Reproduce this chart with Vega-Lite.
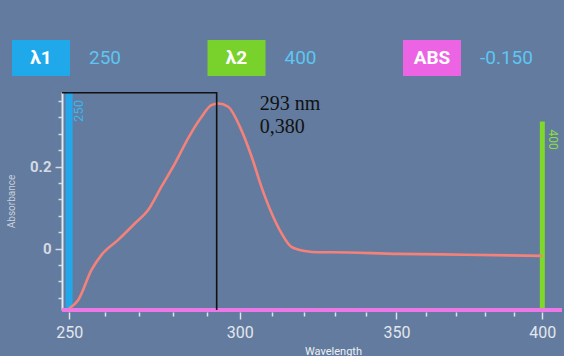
{
  "$schema": "https://vega.github.io/schema/vega-lite/v6.json",
  "background": "#627b9e",
  "padding": {"left": 6, "top": 30, "right": 0, "bottom": 0},
  "spacing": 6,
  "bounds": "flush",
  "config": {"view": {"stroke": null}, "font": "Roboto"},
  "datasets": {
    "header": [
      {"key": "λ1", "value": "250"},
      {"key": "λ2", "value": "400"},
      {"key": "ABS", "value": "-0.150"}
    ],
    "markers": [
      {"marker": "λ1", "wavelength": 250, "label": "250"},
      {"marker": "λ2", "wavelength": 400, "label": "400"},
      {"marker": "ABS", "absorbance": -0.15}
    ],
    "peak": [
      {"wavelength": 293, "absorbance": 0.38, "nm": "293 nm", "abs": "0,380"}
    ],
    "guide": [
      {"step": 1, "wavelength": 248, "absorbance": 0.38},
      {"step": 2, "wavelength": 293, "absorbance": 0.38},
      {"step": 3, "wavelength": 293, "absorbance": -0.15}
    ],
    "spectrum": [
      {"wavelength": 250.0, "absorbance": -0.146},
      {"wavelength": 252.5, "absorbance": -0.126},
      {"wavelength": 256.3, "absorbance": -0.052},
      {"wavelength": 259.1, "absorbance": -0.016},
      {"wavelength": 263.9, "absorbance": 0.021},
      {"wavelength": 268.7, "absorbance": 0.061},
      {"wavelength": 272.6, "absorbance": 0.094},
      {"wavelength": 276.5, "absorbance": 0.151},
      {"wavelength": 280.5, "absorbance": 0.208},
      {"wavelength": 284.4, "absorbance": 0.269},
      {"wavelength": 288.4, "absorbance": 0.321},
      {"wavelength": 291.4, "absorbance": 0.350},
      {"wavelength": 293.5, "absorbance": 0.354},
      {"wavelength": 296.5, "absorbance": 0.346},
      {"wavelength": 300.1, "absorbance": 0.297},
      {"wavelength": 303.7, "absorbance": 0.224},
      {"wavelength": 306.7, "absorbance": 0.151},
      {"wavelength": 309.9, "absorbance": 0.086},
      {"wavelength": 313.0, "absorbance": 0.037},
      {"wavelength": 316.1, "absorbance": 0.004},
      {"wavelength": 320.4, "absorbance": -0.006},
      {"wavelength": 324.6, "absorbance": -0.009},
      {"wavelength": 328.8, "absorbance": -0.009},
      {"wavelength": 350.6, "absorbance": -0.013},
      {"wavelength": 373.2, "absorbance": -0.015},
      {"wavelength": 400.0, "absorbance": -0.018}
    ]
  },
  "vconcat": [
    {
      "width": 470,
      "height": 56,
      "data": {"name": "header"},
      "encoding": {
        "x": {"field": "key", "type": "nominal", "sort": null, "scale": {"type": "point", "padding": 0, "range": [-21, 370]}, "axis": null}
      },
      "layer": [
        {
          "mark": {"type": "point", "shape": "M-1,-0.62H1V0.62H-1Z", "filled": true, "opacity": 1, "size": 3364},
          "encoding": {
            "color": {"field": "key", "type": "nominal", "sort": null, "scale": {"domain": ["λ1", "λ2", "ABS"], "range": ["#1fa9ea", "#79d12c", "#ec63e4"]}, "legend": null}
          }
        },
        {
          "mark": {"type": "text", "color": "white", "fontSize": 19, "fontWeight": "bold", "font": "Roboto"},
          "encoding": {"text": {"field": "key"}}
        },
        {
          "mark": {"type": "text", "color": "#5ec6f4", "fontSize": 19, "align": "left", "dx": 48, "font": "Roboto"},
          "encoding": {"text": {"field": "value"}}
        }
      ]
    },
    {
      "width": 500,
      "height": 218,
      "layer": [
        {
          "data": {"name": "markers"},
          "transform": [{"filter": "datum.marker === 'λ1'"}],
          "mark": {"type": "rule", "color": "#22a7ea", "strokeWidth": 7},
          "encoding": {
            "x": {"field": "wavelength", "type": "quantitative"}
          }
        },
        {
          "data": {"name": "markers"},
          "transform": [{"filter": "datum.marker === 'λ1'"}],
          "mark": {"type": "text", "color": "#3bb6f0", "fontSize": 13, "angle": 270, "align": "right", "baseline": "middle", "dx": -8, "dy": 10},
          "encoding": {
            "x": {"field": "wavelength", "type": "quantitative"},
            "y": {"datum": 0.382},
            "text": {"field": "label"}
          }
        },
        {
          "data": {"name": "markers"},
          "transform": [{"filter": "datum.marker === 'λ2'"}],
          "mark": {"type": "rule", "color": "#7ed92a", "strokeWidth": 5},
          "encoding": {
            "x": {"field": "wavelength", "type": "quantitative"},
            "y": {"datum": -0.15},
            "y2": {"datum": 0.31}
          }
        },
        {
          "data": {"name": "markers"},
          "transform": [{"filter": "datum.marker === 'λ2'"}],
          "mark": {"type": "text", "color": "#8be03a", "fontSize": 12, "angle": 90, "align": "left", "baseline": "middle", "dx": 8, "dy": -11},
          "encoding": {
            "x": {"field": "wavelength", "type": "quantitative"},
            "y": {"datum": 0.31},
            "text": {"field": "label"}
          }
        },
        {
          "data": {"name": "markers"},
          "transform": [{"filter": "datum.marker === 'ABS'"}],
          "mark": {"type": "rule", "color": "#ec78e8", "strokeWidth": 4},
          "encoding": {
            "y": {"field": "absorbance", "type": "quantitative"}
          }
        },
        {
          "data": {"name": "spectrum"},
          "mark": {"type": "line", "color": "#f4827a", "strokeWidth": 2.6, "interpolate": "monotone"},
          "encoding": {
            "x": {
              "field": "wavelength",
              "type": "quantitative",
              "scale": {"type": "pow", "exponent": 0.5, "domain": [248, 407], "nice": false, "zero": false},
              "axis": {
                "values": [250, 260, 270, 280, 290, 300, 310, 320, 330, 340, 350, 360, 370, 380, 390, 400],
                "tickCount": 100,
                "labelExpr": "datum.value % 50 === 0 ? datum.label : ''",
                "tickSize": {"condition": {"test": "datum.value % 50 === 0", "value": 7}, "value": 4},
                "domain": false,
                "grid": false,
                "labelOverlap": false,
                "labelFlush": false,
                "labelColor": "#e3e7ee",
                "labelFontSize": 16,
                "labelPadding": 5,
                "tickColor": "#dde3ea",
                "tickWidth": 1.5,
                "offset": 2,
                "title": "Wavelength",
                "titleColor": "#eef1f5",
                "titleFontSize": 11,
                "titleFontWeight": "normal",
                "titlePadding": 5,
                "titleX": 271
              }
            },
            "y": {
              "field": "absorbance",
              "type": "quantitative",
              "scale": {"domain": [-0.15, 0.382], "nice": false, "zero": false},
              "axis": {
                "values": [-0.12, -0.08, -0.04, 0, 0.04, 0.08, 0.12, 0.16, 0.2, 0.24, 0.28, 0.32, 0.36],
                "tickCount": 100,
                "labelExpr": "datum.value === 0 ? '0' : datum.value === 0.2 ? '0.2' : ''",
                "tickSize": {"condition": {"test": "datum.value === 0 || datum.value === 0.2", "value": 7}, "value": 4},
                "grid": false,
                "labelOverlap": false,
                "labelFlush": false,
                "domainColor": "#e2e8ef",
                "domainWidth": 2,
                "tickColor": "#d3dae3",
                "tickWidth": 1.5,
                "labelColor": "#d4dae3",
                "labelFontSize": 15,
                "labelFontWeight": "bold",
                "labelPadding": 4,
                "minExtent": 44,
                "maxExtent": 44,
                "title": "Absorbance",
                "titleColor": "#c8d0da",
                "titleFontSize": 10,
                "titleFontWeight": "normal",
                "titlePadding": 2
              }
            }
          }
        },
        {
          "data": {"name": "guide"},
          "mark": {"type": "line", "color": "#111111", "strokeWidth": 1.6, "interpolate": "linear"},
          "encoding": {
            "x": {"field": "wavelength", "type": "quantitative"},
            "y": {"field": "absorbance", "type": "quantitative"},
            "order": {"field": "step", "type": "quantitative"}
          }
        },
        {
          "data": {"name": "peak"},
          "mark": {"type": "text", "font": "Liberation Serif", "fontSize": 20, "color": "#111111", "align": "left", "baseline": "middle", "dx": 43, "dy": 11},
          "encoding": {
            "x": {"field": "wavelength", "type": "quantitative"},
            "y": {"field": "absorbance", "type": "quantitative"},
            "text": {"field": "nm"}
          }
        },
        {
          "data": {"name": "peak"},
          "mark": {"type": "text", "font": "Liberation Serif", "fontSize": 20, "color": "#111111", "align": "left", "baseline": "middle", "dx": 43, "dy": 34},
          "encoding": {
            "x": {"field": "wavelength", "type": "quantitative"},
            "y": {"field": "absorbance", "type": "quantitative"},
            "text": {"field": "abs"}
          }
        }
      ]
    }
  ]
}
